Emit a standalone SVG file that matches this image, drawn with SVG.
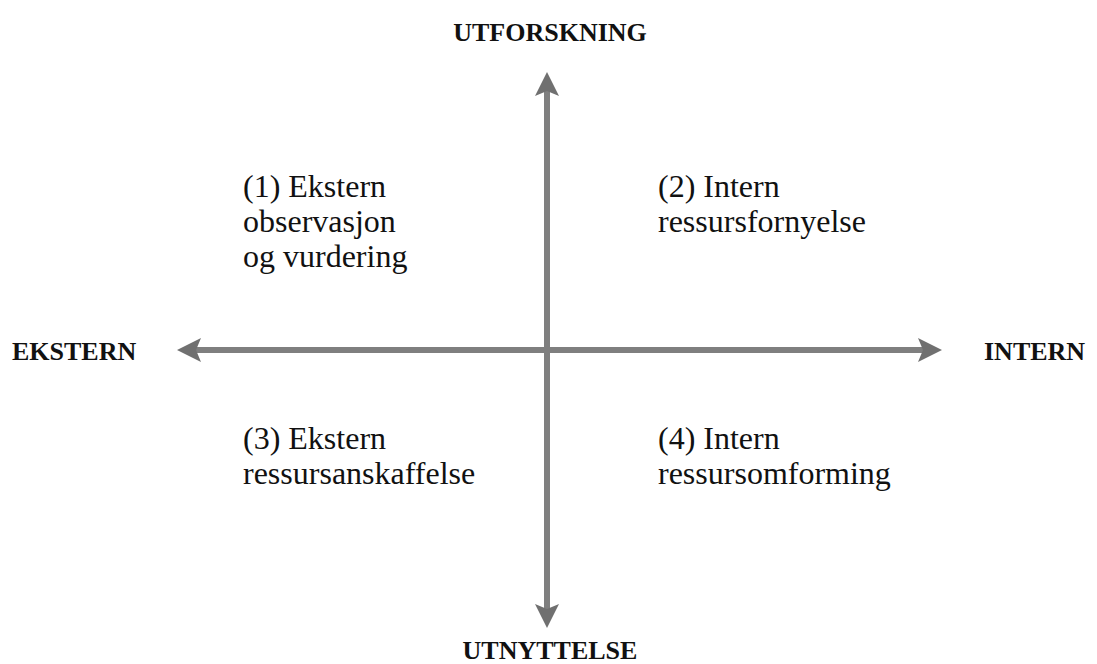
<svg xmlns="http://www.w3.org/2000/svg" width="1097" height="664" viewBox="0 0 1097 664">
  <style>
    .axis { stroke: #7f7f7f; stroke-width: 6; fill: none; }
    .pole { font-family: "Liberation Serif", "DejaVu Serif", serif; font-weight: bold; font-size: 26px; fill: #111; }
    .quad { font-family: "Liberation Serif", "DejaVu Serif", serif; font-size: 32px; fill: #111; }
  </style>
  <defs>
    <!-- arrowhead: tip sits 10px beyond the end of the axis line -->
    <marker id="head" viewBox="0 0 24 26" refX="14" refY="13" markerWidth="24" markerHeight="26" markerUnits="userSpaceOnUse" orient="auto-start-reverse">
      <path d="M0,1 L24,13 L0,25 L5,13 Z" fill="#707070"/>
    </marker>
  </defs>
  <rect width="1097" height="664" fill="#ffffff"/>

  <!-- axes -->
  <g id="connectors">
    <line class="axis" x1="547" y1="82" x2="547" y2="618" marker-start="url(#head)" marker-end="url(#head)"/>
    <line class="axis" x1="187" y1="350" x2="932" y2="350" marker-start="url(#head)" marker-end="url(#head)"/>
  </g>

  <!-- axis poles -->
  <g id="utforskning"><text class="pole" x="550" y="41" text-anchor="middle">UTFORSKNING</text></g>
  <g id="utnyttelse"><text class="pole" x="550" y="659" text-anchor="middle">UTNYTTELSE</text></g>
  <g id="ekstern"><text class="pole" x="12" y="360">EKSTERN</text></g>
  <g id="intern"><text class="pole" x="984" y="360">INTERN</text></g>

  <!-- quadrants -->
  <g id="q1">
    <text class="quad" x="243" y="197">(1) Ekstern</text>
    <text class="quad" x="243" y="232">observasjon</text>
    <text class="quad" x="243" y="267">og vurdering</text>
  </g>
  <g id="q2">
    <text class="quad" x="658" y="197">(2) Intern</text>
    <text class="quad" x="658" y="232">ressursfornyelse</text>
  </g>
  <g id="q3">
    <text class="quad" x="243" y="449">(3) Ekstern</text>
    <text class="quad" x="243" y="484">ressursanskaffelse</text>
  </g>
  <g id="q4">
    <text class="quad" x="658" y="449">(4) Intern</text>
    <text class="quad" x="658" y="484">ressursomforming</text>
  </g>
</svg>
